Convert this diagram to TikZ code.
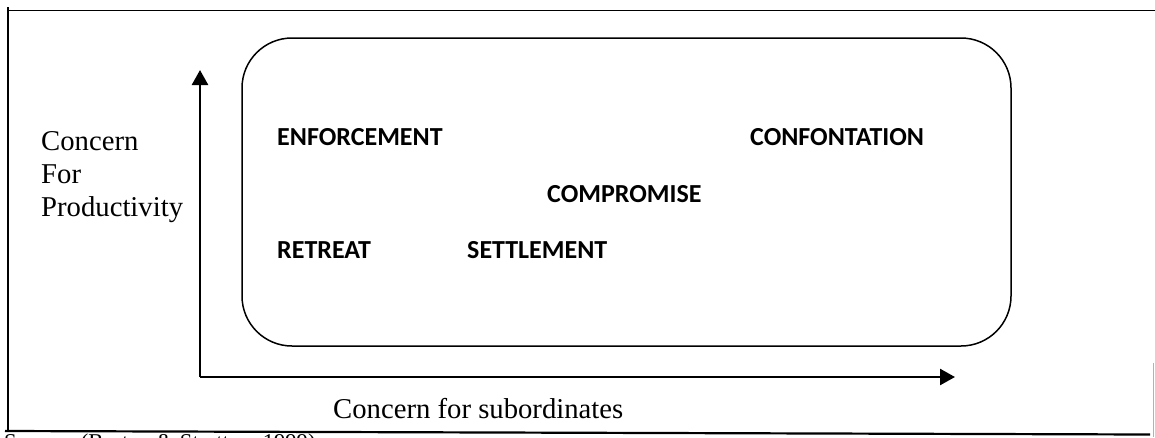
\documentclass[tikz,border=0pt]{standalone}
\usepackage{fontspec}
\setmainfont{Liberation Serif}
\newfontfamily\calibri{Carlito}
\usetikzlibrary{arrows.meta}

\tikzset{
  frame/.style={line width=1.5pt},
  axis/.style={line width=2.5pt, -{Triangle[width=16pt,length=15pt]}},
  style label/.style={anchor=base west, inner sep=0pt, font=\calibri\bfseries\fontsize{26}{30}\selectfont},
  axis label/.style={anchor=base west, inner sep=0pt, align=left, font=\fontsize{28.7}{33}\selectfont}
}

\begin{document}
\begin{tikzpicture}[x=1pt,y=-1pt]
  \path[use as bounding box] (0,0) rectangle (1155,437);

  % outer frame
  \draw[frame] (8,10.5) -- (1155,10.5);
  \draw[frame] (8,7) -- (8,432);
  \draw[line width=2.2pt] (5,431) -- (1150,434.5);
  \draw[gray!60, line width=1pt] (1153.5,363) -- (1153.5,437);

  % grid box
  \node[draw, line width=1.5pt, rounded corners=50pt, minimum width=769pt,
        minimum height=308pt, inner sep=0pt] (grid) at (626.5,192) {};

  % axes
  \coordinate (origin) at (200,377);
  \coordinate (ytip) at (200,70);
  \coordinate (xtip) at (955,377);
  \draw[axis] (origin) -- (ytip);
  \draw[axis] (origin) -- (xtip);

  \node[axis label] (ylabel) at (41,216) {Concern\\For\\Productivity};
  \node[axis label] (xlabel) at (333,418) {Concern for subordinates};

  % styles
  \node[style label] (enforcement) at (277,145) {ENFORCEMENT};
  \node[style label] (confrontation) at (750,145) {CONFONTATION};
  \node[style label] (compromise) at (547,202) {COMPROMISE};
  \node[style label] (retreat) at (277,258) {RETREAT};
  \node[style label] (settlement) at (467,258) {SETTLEMENT};

  \node[anchor=base west, inner sep=0pt, font=\fontsize{22.6}{26}\selectfont]
    (source) at (4,449) {Source: (Bryton \& Stratton, 1999)};

\end{tikzpicture}
\end{document}
